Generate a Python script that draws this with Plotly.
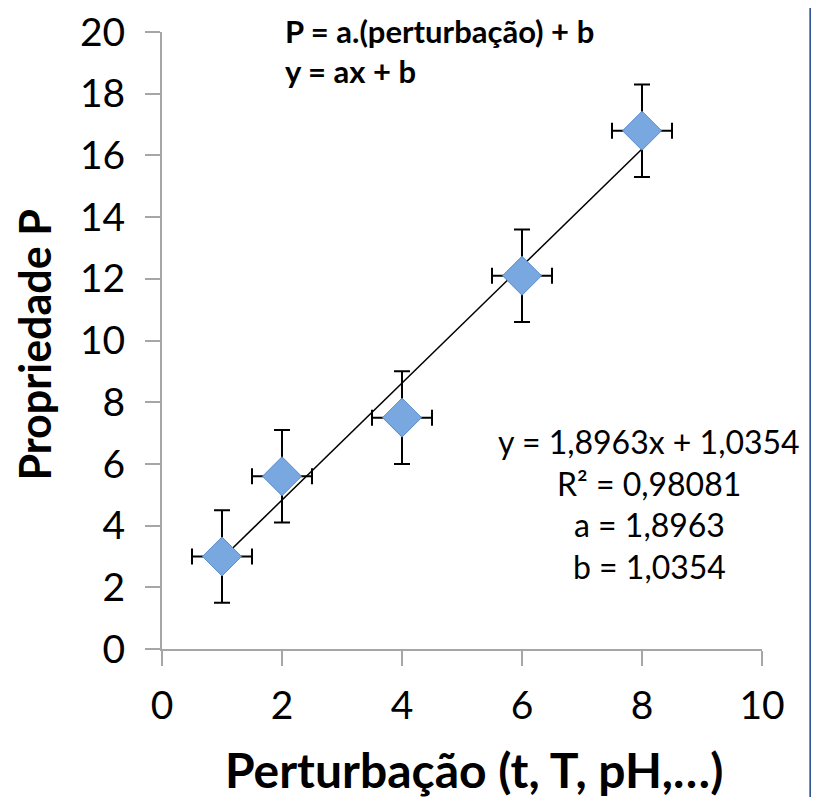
import numpy as np
import plotly.graph_objects as go

x_vals = [1, 2, 4, 6, 8]
y_vals = [3.0, 5.6, 7.5, 12.1, 16.8]
x_err = [0.5, 0.5, 0.5, 0.5, 0.5]
y_err = [1.5, 1.5, 1.5, 1.5, 1.5]
tick_vals_x = [0, 2, 4, 6, 8, 10]
tick_vals_y = [0, 2, 4, 6, 8, 10, 12, 14, 16, 18, 20]
x_title = "Perturbação (t, T, pH,…)"
y_title = "Propriedade P"
model_lines = ["P = a.(perturbação) + b", "y = ax + b"]

a, b = np.polyfit(x_vals, y_vals, 1)
pred = a * np.array(x_vals) + b
ss_res = np.sum((np.array(y_vals) - pred) ** 2)
ss_tot = np.sum((np.array(y_vals) - np.mean(y_vals)) ** 2)
r2 = 1 - ss_res / ss_tot

def br(v, d):
    return f"{v:.{d}f}".replace(".", ",")

trend_x = [min(x_vals), max(x_vals)]
trend_y = [a * v + b for v in trend_x]

FONT = "Lato, Carlito, Calibri, sans-serif"

fig = go.Figure()
fig.add_trace(go.Scatter(x=trend_x, y=trend_y, mode="lines",
                         line=dict(color="black", width=1.5), showlegend=False))
fig.add_trace(go.Scatter(
    x=x_vals, y=y_vals, mode="markers",
    marker=dict(symbol="diamond", size=30, color="#79a7e0",
                line=dict(color="#5b8bc9", width=1)),
    error_x=dict(type="data", array=x_err, color="black", thickness=2, width=8),
    error_y=dict(type="data", array=y_err, color="black", thickness=2, width=8),
    showlegend=False))

axis_common = dict(showgrid=False, zeroline=False, automargin=False,
                   showline=True, linecolor="#a6a6a6", linewidth=2,
                   ticks="outside", ticklen=15, tickcolor="#a6a6a6", tickwidth=2,
                   ticklabeloverflow="allow",
                   tickfont=dict(size=39, family=FONT))

fig.update_layout(
    width=803, height=789,
    margin=dict(l=154, r=49, t=24, b=148, autoexpand=False),
    paper_bgcolor="white", plot_bgcolor="white",
    font=dict(family=FONT, color="black"),
    xaxis=dict(range=[0, 10], tickvals=tick_vals_x, ticklabelstandoff=6, **axis_common),
    yaxis=dict(range=[0, 20], tickvals=tick_vals_y, ticklabelstandoff=12, **axis_common),
    shapes=[dict(type="line", xref="paper", yref="paper", x0=1.081, x1=1.081,
                 y0=-0.3, y1=1.1, line=dict(color="#2f5597", width=2.5))],
)

# axis titles
fig.add_annotation(xref="paper", yref="paper", x=0.52, y=-0.196, showarrow=False,
                   xanchor="center", yanchor="middle", text=f"<b>{x_title}</b>",
                   font=dict(size=48, family=FONT))
fig.add_annotation(xref="paper", yref="paper", x=-0.212, y=0.493, showarrow=False,
                   xanchor="center", yanchor="middle", textangle=-90,
                   text=f"<b>{y_title}</b>", font=dict(size=43, family=FONT))

# model text
fig.add_annotation(xref="paper", yref="paper", x=0.2017, y=1.036, xanchor="left",
                   yanchor="top", showarrow=False, align="left",
                   text="<br>".join(f"<b>{t}</b>" for t in model_lines),
                   font=dict(size=31, family=FONT))

eq_lines = [f"y = {br(a,4)}x + {br(b,4)}", f"R² = {br(r2,5)}",
            f"a = {br(a,4)}", f"b = {br(b,4)}"]
eq_y = [6.74, 5.38, 4.02, 2.66]
for txt, yy in zip(eq_lines, eq_y):
    fig.add_annotation(x=8.12, y=yy, xref="x", yref="y", showarrow=False,
                       xanchor="center", yanchor="middle", text=txt,
                       font=dict(size=32, family=FONT))

fig.write_html("out.html")
